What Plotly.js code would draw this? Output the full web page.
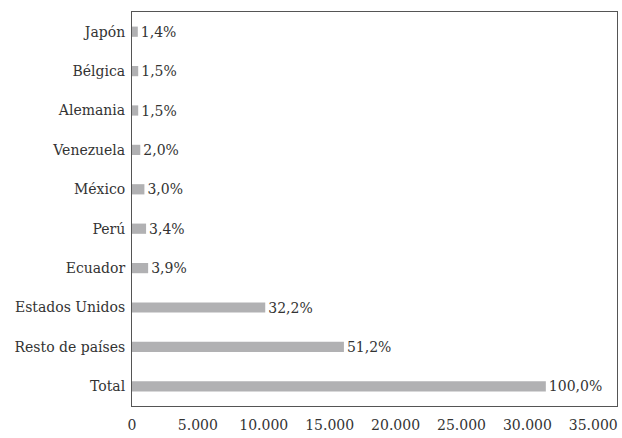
<!DOCTYPE html>
<html>
<head>
<meta charset="utf-8">
<script src="https://cdn.plot.ly/plotly-3.0.1.min.js"></script>
<style>html,body{margin:0;padding:0;background:#fff;}#chart{width:622px;height:438px;}</style>
</head>
<body>
<div id="chart"></div>
<script>
const categories = ["Total", "Resto de países", "Estados Unidos", "Ecuador", "Perú", "México", "Venezuela", "Alemania", "Bélgica", "Japón"];
const values = [31400, 16080, 10110, 1225, 1068, 942, 628, 471, 471, 440];
const percentLabels = ["100,0%", "51,2%", "32,2%", "3,9%", "3,4%", "3,0%", "2,0%", "1,5%", "1,5%", "1,4%"];
const tickValues = [0, 5000, 10000, 15000, 20000, 25000, 30000, 35000];
const tickLabels = ["0", "5.000", "10.000", "15.000", "20.000", "25.000", "30.000", "35.000"];

const fontFam = "DejaVu Serif";

Plotly.newPlot("chart", [{
  type: "bar",
  orientation: "h",
  y: categories,
  x: values,
  text: percentLabels,
  textposition: "outside",
  constraintext: "none",
  cliponaxis: false,
  textfont: {family: fontFam, size: 14, color: "#333"},
  marker: {color: "#b1b1b3"},
  hoverinfo: "none"
}], {
  width: 622,
  height: 438,
  margin: {l: 132, r: 5, t: 12, b: 32},
  paper_bgcolor: "#fff",
  plot_bgcolor: "#fff",
  bargap: 0.74,
  showlegend: false,
  font: {family: fontFam, size: 14, color: "#333"},
  xaxis: {
    range: [0, 36800],
    tickvals: tickValues,
    ticktext: tickLabels,
    showgrid: false,
    zeroline: false,
    showline: true,
    mirror: true,
    linecolor: "#555",
    linewidth: 1,
    ticks: "outside",
    ticklen: 6,
    tickcolor: "rgba(0,0,0,0)",
    tickfont: {family: fontFam, size: 14, color: "#333"},
    fixedrange: true
  },
  yaxis: {
    categoryorder: "array",
    categoryarray: categories,
    range: [-0.5, 9.5],
    showgrid: false,
    zeroline: false,
    showline: true,
    mirror: true,
    linecolor: "#555",
    linewidth: 1,
    ticks: "outside",
    ticklen: 3,
    tickcolor: "rgba(0,0,0,0)",
    tickfont: {family: fontFam, size: 14, color: "#333"},
    fixedrange: true
  }
}, {displayModeBar: false, staticPlot: true});
</script>
</body>
</html>
